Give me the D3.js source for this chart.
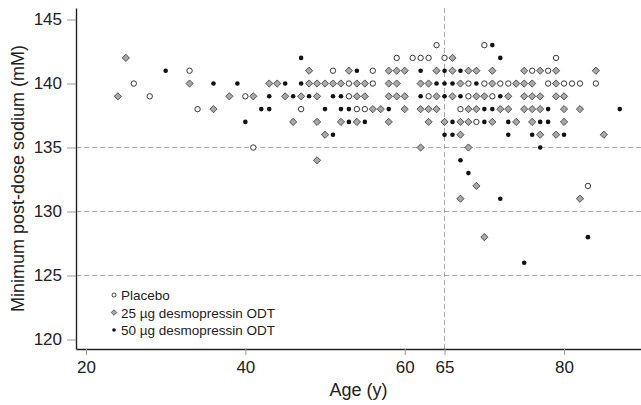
<!DOCTYPE html>
<html>
<head>
<meta charset="utf-8">
<script src="https://cdn.jsdelivr.net/npm/d3@7"></script>
<style>
  html, body { margin: 0; padding: 0; background: #fff; }
  svg { display: block; font-family: "Liberation Sans", Arial, Helvetica, sans-serif; }
</style>
</head>
<body>
<svg id="chart" width="641" height="405"></svg>
<script>
// [age (y), minimum post-dose sodium (mM)]
const placebo = [
  [26,140],[28,139],[33,141],[34,138],[40,139],[41,135],[47,138],[51,141],[53,140],[53,139],
  [64,143],[70,143],[59,142],[61,142],[62,142],[63,142],[65,142],[79,142],
  [56,141],[76,141],[78,141],
  [56,140],[68,140],[70,140],[72,140],[73,140],[78,140],[80,140],[81,140],[82,140],[84,140],
  [63,139],[68,139],[71,139],
  [54,138],[55,138],[67,138],
  [69,137],
  [83,132]
];
const dose25 = [
  [24,139],[25,142],[33,140],[36,138],[38,139],[41,139],[43,140],[44,140],[45,139],[46,137],
  [47,139],[48,141],[48,140],[49,140],[50,140],[51,140],[52,140],[49,139],[49,137],[52,137],
  [50,136],[49,134],[53,141],
  [66,142],
  [58,141],[59,141],[60,141],[64,141],[66,141],[68,141],[69,141],[71,141],[75,141],[77,141],[79,141],[84,141],
  [54,140],[55,140],[58,140],[59,140],[62,140],[63,140],[67,140],[71,140],[74,140],[75,140],[76,140],[79,140],
  [54,139],[55,139],[58,139],[59,139],[60,139],[64,139],[66,139],[69,139],[70,139],[73,139],[75,139],[76,139],[77,139],[79,139],[80,139],
  [56,138],[57,138],[60,138],[62,138],[63,138],[64,138],[68,138],[69,138],[72,138],[73,138],[75,138],[76,138],[77,138],[80,138],[82,138],
  [54,137],[58,137],[63,137],[65,137],[67,137],[68,137],[71,137],[74,137],[76,137],[80,137],
  [67,136],[77,136],[79,136],[85,136],
  [62,135],[68,135],
  [69,132],[67,131],[82,131],[70,128]
];
const dose50 = [
  [30,141],[36,140],[39,140],[47,142],[45,140],[47,140],[43,139],[46,139],[48,139],[51,139],
  [52,139],[42,138],[43,138],[50,138],[52,138],[53,138],[40,137],[53,137],[51,136],
  [71,143],[72,142],
  [54,141],[62,141],[65,141],[67,141],
  [64,140],[65,140],[66,140],[69,140],
  [62,139],[65,139],[67,139],[72,139],
  [58,138],[70,138],[71,138],[78,138],[87,138],
  [55,137],[66,137],[70,137],[73,137],[77,137],[78,137],
  [65,136],[66,136],[73,136],[76,136],[80,136],
  [77,135],[67,134],[68,133],[72,131],[83,128],[75,126]
];
const xTicks = [20, 40, 60, 65, 80];
const yTicks = [120, 125, 130, 135, 140, 145];
const hGrid = [125, 130, 135];
const vGrid = [65];
const legendLabels = ["Placebo", "25 \u00b5g desmopressin ODT", "50 \u00b5g desmopressin ODT"];

const svg = d3.select("#chart");
const x = d3.scaleLinear().domain([18.745, 89.66]).range([76, 641]);
const y = d3.scaleLinear().domain([119.26, 145.9]).range([349, 8]);

// gridlines
svg.append("g").selectAll("line").data(hGrid).join("line")
  .attr("x1", 76).attr("x2", 641)
  .attr("y1", d => y(d)).attr("y2", d => y(d))
  .attr("stroke", "#aaa").attr("stroke-width", 1).attr("stroke-dasharray", "5,3");
svg.append("g").selectAll("line").data(vGrid).join("line")
  .attr("x1", d => x(d)).attr("x2", d => x(d))
  .attr("y1", 8).attr("y2", 349)
  .attr("stroke", "#aaa").attr("stroke-width", 1).attr("stroke-dasharray", "5,3");

// axes
const xAxis = svg.append("g").attr("transform", "translate(0,349)")
  .call(d3.axisBottom(x).tickValues(xTicks).tickFormat(d3.format("d")).tickSize(6).tickSizeOuter(0).tickPadding(6));
const yAxis = svg.append("g").attr("transform", "translate(76,0)")
  .call(d3.axisLeft(y).tickValues(yTicks).tickFormat(d3.format("d")).tickSize(9).tickSizeOuter(0).tickPadding(5));
[xAxis, yAxis].forEach(g => {
  g.select(".domain").attr("stroke", "#222").attr("stroke-width", 1.4);
  g.selectAll(".tick line").attr("stroke", "#999").attr("stroke-width", 1);
  g.selectAll(".tick text").attr("fill", "#222").style("font-size", "17px")
    .style("font-family", '"Liberation Sans", Arial, sans-serif');
});

// axis titles
svg.append("text").attr("x", 358.5).attr("y", 396).attr("text-anchor", "middle")
  .attr("fill", "#222").style("font-size", "18px").text("Age (y)");
svg.append("text").attr("transform", "translate(24,178.5) rotate(-90)").attr("text-anchor", "middle")
  .attr("fill", "#222").style("font-size", "18px").text("Minimum post-dose sodium (mM)");

// points
const diamond = s => `M0,${-s}L${s},0L0,${s}L${-s},0Z`;
svg.append("g").selectAll("circle").data(placebo).join("circle")
  .attr("cx", d => x(d[0])).attr("cy", d => y(d[1])).attr("r", 2.7)
  .attr("fill", "#fff").attr("stroke", "#222").attr("stroke-width", 0.9);
svg.append("g").selectAll("path").data(dose25).join("path")
  .attr("transform", d => `translate(${x(d[0])},${y(d[1])})`)
  .attr("d", diamond(3.6))
  .attr("fill", "#a8a8a8").attr("stroke", "#333").attr("stroke-width", 0.8);
svg.append("g").selectAll("circle").data(dose50).join("circle")
  .attr("cx", d => x(d[0])).attr("cy", d => y(d[1])).attr("r", 2.3)
  .attr("fill", "#111");

// legend
const leg = svg.append("g");
const ly = [295, 312.5, 330];
leg.append("circle").attr("cx", 114).attr("cy", ly[0]).attr("r", 2)
  .attr("fill", "#fff").attr("stroke", "#222").attr("stroke-width", 0.8);
leg.append("path").attr("transform", `translate(114,${ly[1]})`).attr("d", diamond(2.8))
  .attr("fill", "#a8a8a8").attr("stroke", "#333").attr("stroke-width", 0.7);
leg.append("circle").attr("cx", 114).attr("cy", ly[2]).attr("r", 1.8).attr("fill", "#111");
leg.selectAll("text").data(legendLabels).join("text")
  .attr("x", 121).attr("y", (d, i) => ly[i] + 5)
  .attr("fill", "#222").style("font-size", "13.5px").text(d => d);
</script>
</body>
</html>
